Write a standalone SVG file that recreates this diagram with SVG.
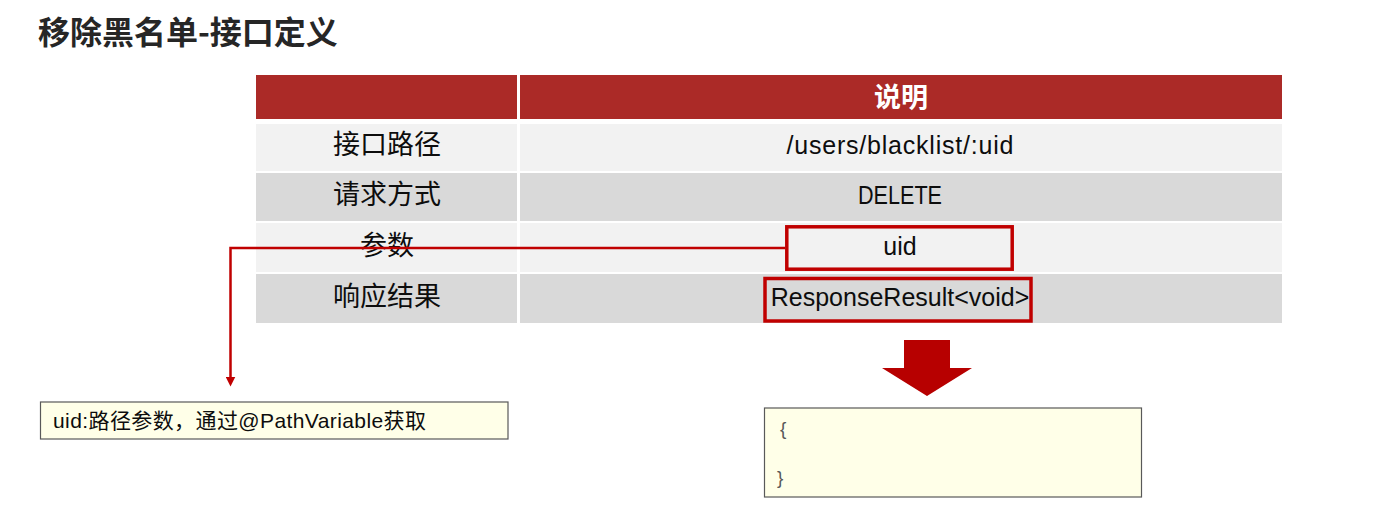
<svg xmlns="http://www.w3.org/2000/svg" width="1400" height="523" viewBox="0 0 1400 523">
  <style>
    .cn { font-family: "Noto Sans CJK SC", "Liberation Sans", sans-serif; }
    .lat { font-family: "Liberation Sans", "Noto Sans CJK SC", sans-serif; }
    .cell { font-size: 27px; fill: #0d0d0d; text-anchor: middle; }
    .val { font-size: 25px; fill: #0d0d0d; text-anchor: middle; }
    .light { fill: #F2F2F2; }
    .dark { fill: #D9D9D9; }
    .hl { fill: none; stroke: #C00000; stroke-width: 3.5; }
    .note { fill: #FFFFE8; stroke: #595959; stroke-width: 1.2; }
  </style>
  <defs>
    <marker id="arr" markerWidth="10" markerHeight="10" refX="5.5" refY="5" orient="auto" markerUnits="userSpaceOnUse" viewBox="0 0 10 10">
      <path d="M0,0 L10,5 L0,10 Z" fill="#C00000"/>
    </marker>
  </defs>
  <rect width="1400" height="523" fill="#FFFFFF"/>

  <text id="title" x="38" y="44" class="cn" font-size="32" font-weight="bold" fill="#262626">移除黑名单-接口定义</text>

  <g id="table">
    <g id="header">
      <rect x="256" y="75" width="261" height="44" fill="#AB2A27"/>
      <rect x="520" y="75" width="762" height="44" fill="#AB2A27"/>
      <text x="901" y="107" class="cn" font-size="27" font-weight="bold" fill="#FFFFFF" text-anchor="middle">说明</text>
    </g>
    <g id="row-path">
      <rect x="256" y="124" width="261" height="47" class="light"/>
      <rect x="520" y="124" width="762" height="47" class="light"/>
      <text x="387" y="154" class="cn cell">接口路径</text>
      <text x="900" y="154" class="lat val" textLength="227">/users/blacklist/:uid</text>
    </g>
    <g id="row-method">
      <rect x="256" y="173" width="261" height="48" class="dark"/>
      <rect x="520" y="173" width="762" height="48" class="dark"/>
      <text x="387" y="204" class="cn cell">请求方式</text>
      <text x="900" y="204" class="lat val" font-size="24" textLength="84" lengthAdjust="spacingAndGlyphs">DELETE</text>
    </g>
    <g id="row-param">
      <rect x="256" y="223" width="261" height="49" class="light"/>
      <rect x="520" y="223" width="762" height="49" class="light"/>
      <text x="387" y="255" class="cn cell">参数</text>
      <text x="900" y="255" class="lat val">uid</text>
    </g>
    <g id="row-result">
      <rect x="256" y="274" width="261" height="49" class="dark"/>
      <rect x="520" y="274" width="762" height="49" class="dark"/>
      <text x="387" y="306" class="cn cell">响应结果</text>
      <text x="900" y="306" class="lat val">ResponseResult&lt;void&gt;</text>
    </g>
  </g>

  <g id="uid-highlight">
    <rect x="786.8" y="226.8" width="225.4" height="42.4" class="hl"/>
  </g>
  <g id="result-highlight">
    <rect x="765" y="278.5" width="266" height="42.5" class="hl"/>
  </g>

  <g id="connectors">
    <polyline points="785,248 230.5,248 230.5,382" fill="none" stroke="#C00000" stroke-width="2.5" marker-end="url(#arr)"/>
    <polygon id="block-arrow" points="904,340 950,340 950,368 972,368 927,396 882,368 904,368" fill="#B70000"/>
  </g>

  <g id="note-uid">
    <rect x="40.5" y="402" width="467.5" height="37" class="note"/>
    <text x="53" y="428" class="lat" font-size="21" fill="#0d0d0d" textLength="373">uid:路径参数，通过@PathVariable获取</text>
  </g>

  <g id="note-result">
    <rect x="764.5" y="408" width="377" height="89" class="note"/>
    <text x="780" y="435" class="lat" font-size="19" fill="#595959">{</text>
    <text x="777" y="484" class="lat" font-size="19" fill="#595959">}</text>
  </g>
</svg>
